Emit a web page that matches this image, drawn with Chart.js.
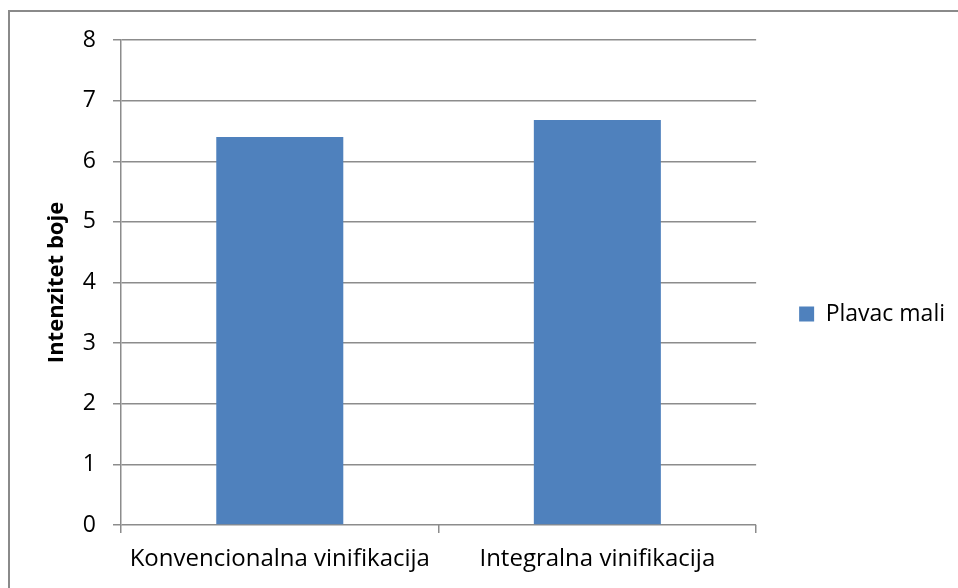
<!DOCTYPE html>
<html>
<head>
<meta charset="utf-8">
<script src="https://cdn.jsdelivr.net/npm/chart.js@4"></script>
<style>
    html, body { margin: 0; padding: 0; background: #fff; }
    #wrap { position: relative; width: 958px; height: 588px; overflow: hidden; }
    #frame { position: absolute; left: 8px; top: 10px; width: 2000px; height: 2000px;
             border-left: 2px solid #8a8a8a; border-top: 2px solid #8a8a8a; }
    canvas { position: absolute; left: 0; top: 0; }
</style>
</head>
<body>
<div id="wrap">
    <div id="frame"></div>
    <canvas id="chart" width="958" height="588"></canvas>
</div>
<script>
// chart data
const categories = ['Konvencionalna vinifikacija', 'Integralna vinifikacija'];
const seriesName = 'Plavac mali';
const seriesValues = [6.4, 6.68];
const yTicks = [0, 1, 2, 3, 4, 5, 6, 7, 8];

const barColor = '#4f81bd';
const gridColor = '#8c8c8c';
const fontFamily = '"Open Sans", Lato, sans-serif';

document.addEventListener('DOMContentLoaded', function() {
    const ctx = document.getElementById('chart').getContext('2d');
    new Chart(ctx, {
        type: 'bar',
        data: {
            labels: categories,
            datasets: [{
                label: seriesName,
                data: seriesValues,
                backgroundColor: barColor,
                borderWidth: 0,
                categoryPercentage: 0.4,
                barPercentage: 1.0
            }]
        },
        options: {
            responsive: false,
            animation: false,
            layout: {
                padding: { top: 40, right: 3, bottom: 0, left: 20 }
            },
            scales: {
                x: {
                    grid: {
                        offset: true,
                        drawOnChartArea: false,
                        drawTicks: true,
                        tickLength: 8,
                        color: gridColor,
                        lineWidth: 1.5
                    },
                    border: { display: false },
                    ticks: {
                        color: '#000',
                        font: { family: fontFamily, size: 24 },
                        padding: 12,
                        maxRotation: 0
                    },
                    afterFit: function(scale) { scale.height = 63; }
                },
                y: {
                    min: 0,
                    max: 8,
                    afterBuildTicks: function(scale) {
                        scale.ticks = yTicks.map(v => ({ value: v }));
                    },
                    grid: {
                        color: gridColor,
                        lineWidth: 1.5,
                        drawTicks: true,
                        tickLength: 8
                    },
                    border: { display: true, color: gridColor, width: 1.5 },
                    ticks: {
                        color: '#000',
                        font: { family: fontFamily, size: 23 },
                        padding: 17
                    },
                    title: {
                        display: true,
                        text: 'Intenzitet boje',
                        color: '#000',
                        font: { family: fontFamily, size: 22, weight: 'bold' },
                        padding: { top: 24, bottom: 0 }
                    },
                    afterFit: function(scale) { scale.width = 101; }
                }
            },
            plugins: {
                legend: {
                    position: 'right',
                    labels: {
                        color: '#000',
                        font: { family: fontFamily, size: 23 },
                        boxWidth: 15,
                        boxHeight: 15,
                        padding: 43
                    }
                },
                tooltip: { enabled: false }
            }
        }
    });
});
</script>
</body>
</html>
